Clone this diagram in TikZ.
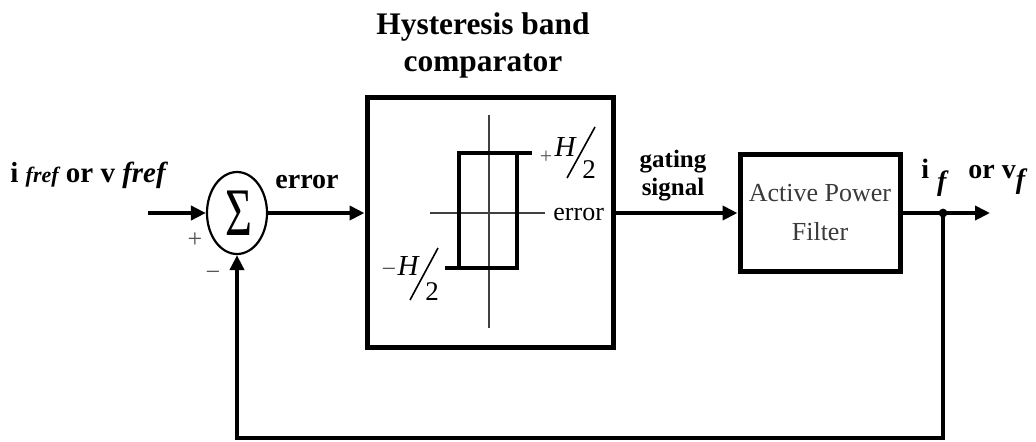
\documentclass[tikz,border=0pt]{standalone}
\usepackage{fontspec}
\setmainfont{Liberation Serif}
\usetikzlibrary{arrows.meta,shapes.geometric}
\definecolor{signgray}{HTML}{555555}
\definecolor{apfgray}{HTML}{3A3A3A}
\begin{document}
\begin{tikzpicture}[x=0.5pt,y=-0.5pt,
  line/.style={line width=2pt},
  arr/.style={line width=2pt,-{Triangle[length=7.5pt,width=7pt]}},
  boxst/.style={draw,line width=2.5pt,inner sep=0pt},
  bl/.style={font=\fontsize{14}{16}\selectfont\bfseries,inner sep=0pt},
  rg/.style={font=\fontsize{13}{15}\selectfont,inner sep=0pt},
  axis/.style={line width=0.7pt,black!75},
  loop/.style={line width=2pt},
  sl/.style={line width=0.8pt},
  sgn/.style={font=\fontsize{13}{13}\selectfont,text=signgray,inner sep=0pt}]
\useasboundingbox (0,0) rectangle (1036,441);

% blocks
\node[draw,ellipse,line width=1.1pt,minimum width=30pt,minimum height=41pt,inner sep=0pt] (sum) at (237,213) {};
\node[font=\fontsize{34}{34}\selectfont,inner sep=0pt,xscale=0.68] (sigma) at (239,213) {Σ};
\node[boxst,minimum width=123pt,minimum height=125pt] (hyst) at (490,222) {};
\node[boxst,minimum width=80pt,minimum height=58.5pt,align=center,text=apfgray,
      font=\fontsize{13}{19.5}\selectfont] (apf) at (820,213) {Active Power\\Filter};

% coordinates
\coordinate (in) at (148,213);
\coordinate (dot) at (943,213);
\coordinate (out) at (990,213);
\coordinate (fbr) at (943,438);

% connectors
\draw[arr] (in) -- (sum.west);
\draw[arr] (sum.east) -- (sum.east -| hyst.west);
\draw[arr] (sum.east -| hyst.east) -- (apf.west);
\draw[arr] (apf.east) -- (out);
\fill (dot) circle (2.2pt);
\draw[arr] (dot) -- (fbr) -| (sum.south);

% hysteresis characteristic
\coordinate (va) at (489,115);
\coordinate (vb) at (489,328);
\coordinate (ha) at (430,213);
\coordinate (hb) at (545,213);
\draw[axis] (va) -- (vb);
\draw[axis] (ha) -- (hb);
\draw[loop] (459,153) rectangle (517,268);
\draw[loop] (517,153) -- (532,153);
\draw[loop] (445,268) -- (459,268);
\node[rg,anchor=west] (errin) at (553,214) {error};
% +H/2
\node[sgn,font=\fontsize{11}{11}\selectfont] (pp) at (546,157) {+};
\node[rg,font=\fontsize{14.5}{15}\selectfont\itshape] (ph) at (565,147) {H};
\draw[sl] (567,178) -- (595,127);
\node[rg,font=\fontsize{13.5}{14}\selectfont] (p2) at (589,170) {2};
% -H/2
\node[sgn,font=\fontsize{13}{13}\selectfont] (mm) at (389,273) {−};
\node[rg,font=\fontsize{14.5}{15}\selectfont\itshape] (mh) at (408,266) {H};
\draw[sl] (410,300) -- (438,248);
\node[rg,font=\fontsize{13.5}{14}\selectfont] (m2) at (432,292) {2};

% labels
\node[bl,font=\fontsize{15.7}{18.5}\selectfont\bfseries,align=center] (title) at (483,45) {Hysteresis band\\comparator};
\node[bl,anchor=base] (errl) at (307,188) {error};
\node[bl,font=\fontsize{12.5}{14}\selectfont\bfseries,align=center] (gate) at (673,176) {gating\\signal};
\node[sgn] (plus) at (195,240) {+};
\node[sgn] (minus) at (213,276) {−};
\node[bl,font=\fontsize{14.5}{16}\selectfont\bfseries,anchor=base west] (inlab) at (10,182) {i {\fontsize{11}{11}\selectfont\itshape fref} or v {\itshape fref}};
\node[bl,anchor=base west] (ifl) at (921,178) {i\hspace{4pt}\raisebox{-6pt}{\itshape f}};
\node[bl,anchor=base west] (vfl) at (968,178) {or v\raisebox{-5pt}{\itshape f}};
\end{tikzpicture}
\end{document}
